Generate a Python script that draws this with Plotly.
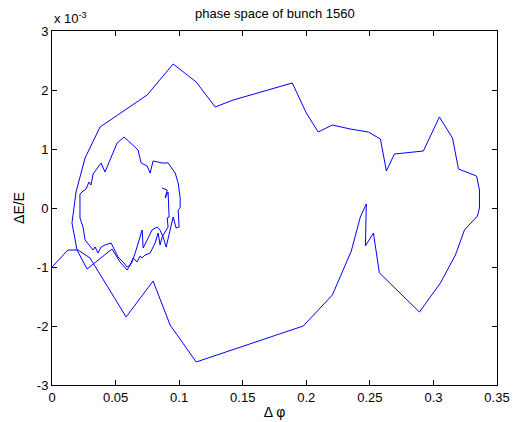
import plotly.graph_objects as go

# Delta phi (rad) and Delta E/E (in units of 1e-3) along the bunch trajectory
dphi = [0.0, 0.0126, 0.0205, 0.0299, 0.0583, 0.0795, 0.0929, 0.1134, 0.1976, 0.2205,
        0.2354, 0.2425, 0.2472, 0.2465, 0.2528, 0.2575, 0.289, 0.3055, 0.3173, 0.3244,
        0.3346, 0.3362, 0.3362, 0.3339, 0.3197, 0.315, 0.3047, 0.2921, 0.2693, 0.263,
        0.2583, 0.2488, 0.2346, 0.2205, 0.2094, 0.2, 0.189, 0.1425, 0.1283, 0.1134,
        0.0953, 0.0748, 0.0378, 0.026, 0.0189, 0.0157, 0.0197, 0.0276, 0.0472, 0.0535,
        0.0591, 0.063, 0.0654, 0.0677, 0.0709, 0.0717, 0.0748, 0.0787, 0.0827, 0.085,
        0.0874, 0.0898, 0.0929, 0.0953, 0.0976, 0.1, 0.0992, 0.1008, 0.1008, 0.0992,
        0.0969, 0.0913, 0.0866, 0.0795, 0.0772, 0.0748, 0.0701, 0.0677, 0.0567, 0.0512,
        0.0417, 0.0386, 0.0323, 0.0307, 0.0291, 0.0268, 0.0236, 0.022, 0.022, 0.0244,
        0.026, 0.0323, 0.0339, 0.0362, 0.0386, 0.0417, 0.0465, 0.052, 0.0559, 0.0591,
        0.0614, 0.0638, 0.0669, 0.0693, 0.0709, 0.0732, 0.0772, 0.0811, 0.0835, 0.085,
        0.0866, 0.089, 0.0913, 0.0906, 0.0921, 0.0913, 0.089, 0.0906, 0.0866]
dE_e3 = [-1.0, -0.712, -0.712, -0.847, -1.847, -1.237, -1.983, -2.61, -2.0, -1.475,
         -0.729, -0.153, 0.068, -0.644, -0.424, -1.1, -1.763, -1.271, -0.797, -0.373,
         -0.136, 0.0, 0.305, 0.542, 0.661, 1.186, 1.542, 0.966, 0.915, 0.627,
         1.169, 1.288, 1.339, 1.407, 1.288, 1.61, 2.119, 1.83, 1.712, 2.136,
         2.441, 1.915, 1.373, 0.847, 0.271, -0.254, -0.712, -1.034, -0.695, -0.915,
         -1.051, -0.915, -0.763, -0.593, -0.373, -0.678, -0.542, -0.373, -0.322, -0.373,
         -0.492, -0.661, -0.373, -0.153, -0.339, -0.322, -0.034, 0.0, 0.169, 0.424,
         0.593, 0.763, 0.763, 0.797, 0.593, 0.712, 0.763, 0.983, 1.203, 1.102,
         0.61, 0.763, 0.576, 0.39, 0.441, 0.322, 0.271, 0.237, -0.169, -0.322,
         -0.542, -0.712, -0.661, -0.763, -0.661, -0.627, -0.593, -0.831, -0.915, -1.0,
         -0.966, -0.847, -0.915, -0.814, -0.847, -0.797, -0.763, -0.593, -0.424, -0.627,
         -0.492, -0.407, -0.322, -0.169, -0.153, 0.271, 0.169, 0.305, 0.339]

x_ticks = [0, 0.05, 0.1, 0.15, 0.2, 0.25, 0.3, 0.35]
x_ticktext = ["0", "0.05", "0.1", "0.15", "0.2", "0.25", "0.3", "0.35"]
y_ticks = [-3, -2, -1, 0, 1, 2, 3]
y_ticktext = ["-3", "-2", "-1", "0", "1", "2", "3"]

font = "Liberation Sans, Arial, sans-serif"

fig = go.Figure(go.Scatter(x=dphi, y=dE_e3, mode="lines",
                           line=dict(color="#0000ff", width=1)))

axis_common = dict(showgrid=False, zeroline=False, showline=True, linecolor="black",
                   linewidth=1, mirror="ticks", ticks="inside", ticklen=5,
                   tickcolor="black", automargin=False,
                   tickfont=dict(family=font, size=13, color="black"))

fig.update_layout(
    width=518, height=422,
    margin=dict(l=52, r=21, t=31, b=37, autoexpand=False),
    paper_bgcolor="white", plot_bgcolor="white",
    showlegend=False,
    xaxis=dict(range=[0, 0.35], tickvals=x_ticks, ticktext=x_ticktext,
               title=dict(text="Δ φ", font=dict(family=font, size=14, color="black"),
                          standoff=3),
               **axis_common),
    yaxis=dict(range=[-3, 3], tickvals=y_ticks, ticktext=y_ticktext,
               title=dict(text="ΔE/E", font=dict(family=font, size=14, color="black"),
                          standoff=8),
               **axis_common),
    annotations=[
        dict(text="phase space of bunch 1560", xref="paper", yref="paper",
             x=0.5, y=1.0, yshift=8, xanchor="center", yanchor="bottom",
             showarrow=False, font=dict(family=font, size=13, color="black")),
        dict(text="x 10<sup>-3</sup>", xref="paper", yref="paper",
             x=0.0, y=1.0, yshift=3, xanchor="left", yanchor="bottom",
             showarrow=False, font=dict(family=font, size=13, color="black")),
    ],
)

fig.write_html("out.html")
